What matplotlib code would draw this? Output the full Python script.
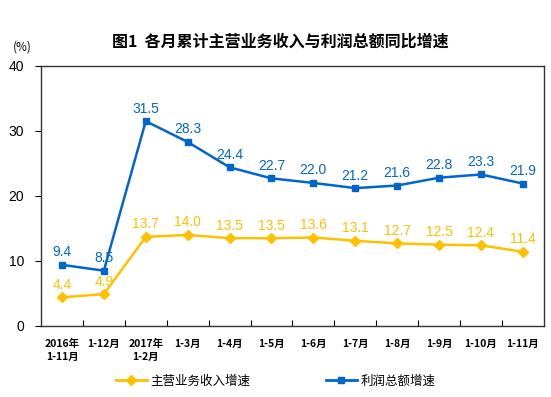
import matplotlib
matplotlib.use("Agg")
import matplotlib.pyplot as plt
from matplotlib.lines import Line2D

plt.rcParams['font.family'] = ['Noto Sans CJK SC', 'DejaVu Sans']

# categories (x axis)
months = ["2016年\n1-11月", "1-12月", "2017年\n1-2月", "1-3月", "1-4月", "1-5月",
          "1-6月", "1-7月", "1-8月", "1-9月", "1-10月", "1-11月"]

# growth rates (%)
revenue = [4.4, 4.9, 13.7, 14.0, 13.5, 13.5, 13.6, 13.1, 12.7, 12.5, 12.4, 11.4]
profit = [9.4, 8.5, 31.5, 28.3, 24.4, 22.7, 22.0, 21.2, 21.6, 22.8, 23.3, 21.9]

yellow = '#FFC000'
blue = '#0066CC'

fig = plt.figure(figsize=(5.51, 3.97), dpi=100)
ax = fig.add_axes([0.0744, 0.179, 0.9126, 0.655])

x = list(range(len(months)))
ax.plot(x, revenue, color=yellow, lw=1.8, marker='D', ms=5)
ax.plot(x, profit, color=blue, lw=1.8, marker='s', ms=5)

for i in x:
    ax.annotate(f"{revenue[i]:.1f}", (i, revenue[i]), xytext=(0, 4), textcoords='offset points',
                ha='center', va='bottom', color=yellow, fontsize=10, family='Liberation Sans')
    ax.annotate(f"{profit[i]:.1f}", (i, profit[i]), xytext=(0, 4), textcoords='offset points',
                ha='center', va='bottom', color=blue, fontsize=10, family='Liberation Sans')

ax.set_xlim(-0.5, len(months) - 0.5)
ax.set_ylim(0, 40)
ax.set_yticks([0, 10, 20, 30, 40])
ax.tick_params(axis='y', direction='out', length=4, labelsize=10, pad=8)
for lab in ax.get_yticklabels():
    lab.set_family('Liberation Sans')

# category boundaries as ticks, labels in the middle
ax.set_xticks([i + 0.5 for i in x[:-1]])
ax.set_xticklabels([])
ax.tick_params(axis='x', direction='in', length=4)
for i, m in enumerate(months):
    ax.text(i, -2.0, m, ha='center', va='top', fontsize=7.5, fontweight='bold', linespacing=1.3)

for s in ax.spines.values():
    s.set_color('#333333')
    s.set_linewidth(1)

fig.text(0.508, 0.894, "图1  各月累计主营业务收入与利润总额同比增速", ha='center', va='center',
         fontsize=11.5, fontweight='bold')
fig.text(0.04, 0.882, "(%)", ha='center', va='center', fontsize=8.5)

handles = [Line2D([], [], color=yellow, lw=2, marker='D', ms=5),
           Line2D([], [], color=blue, lw=2, marker='s', ms=4)]
fig.legend(handles, ["主营业务收入增速", "利润总额增速"], loc='center', bbox_to_anchor=(0.5, 0.04),
           ncol=2, frameon=False, fontsize=9, columnspacing=6, handlelength=2.5, handletextpad=0.3)

fig.savefig("out.png", dpi=100)
